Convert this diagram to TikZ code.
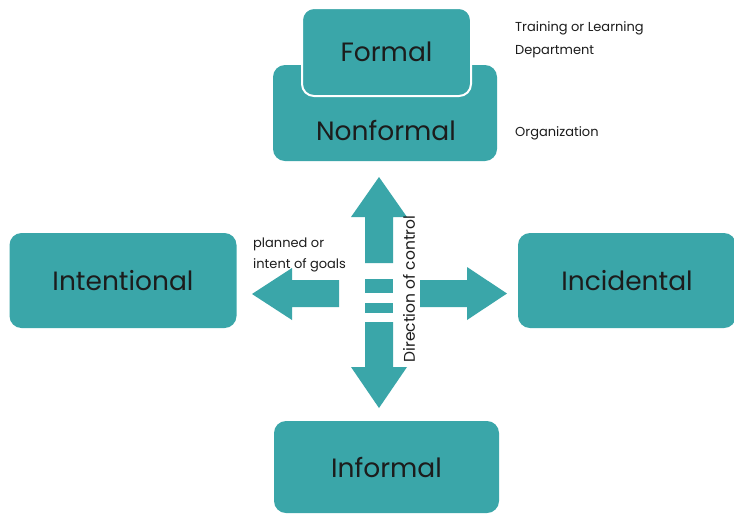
\documentclass[tikz,border=0pt]{standalone}
\usepackage{fontspec}
\setmainfont{Poppins}
\usetikzlibrary{positioning}
\definecolor{tealbox}{HTML}{3AA6A9}
\definecolor{ink}{HTML}{1C1C1C}
\tikzset{
 box/.style={fill=tealbox, rounded corners=12pt, inner sep=0pt},
 boxtext/.style={text=ink, font=\fontsize{26.5}{30}\selectfont},
 note/.style={anchor=west, inner sep=0pt, text=ink, font=\fontsize{13}{15}\selectfont},
 blockarrow/.style={fill=tealbox, draw=none},
}
\begin{document}
\begin{tikzpicture}[x=1pt,y=-1pt]
 \useasboundingbox[fill=white] (0,0) rectangle (734,515);

% Top pair: Nonformal behind, Formal in front
 \node[box, minimum width=224pt, minimum height=96pt] (nonformal) at (385,113) {};
 \node[boxtext] (nonformaltext) at (386,130) {Nonformal};
 \node[box, draw=white, line width=2pt, minimum width=169pt, minimum height=88pt, boxtext] (formal) at (386.5,52) {Formal};

 \node[note] (training) at (515,28) {Training or Learning};
 \node[note] (department) at (515,52) {Department};
 \node[note] (organization) at (515,133) {Organization};

% Side and bottom boxes
 \node[box, minimum width=227pt, minimum height=95pt, boxtext] (intentional) at (123,280.5) {Intentional};
 \node[box, minimum width=218pt, minimum height=95pt, boxtext] (incidental) at (627,280.5) {Incidental};
 \node[box, minimum width=225pt, minimum height=92pt, boxtext] (informal) at (386.5,467) {Informal};

 \node[note] (planned) at (253,244) {planned or};
 \node[note] (goals) at (253,265) {intent of goals};

% Block arrows in the middle
 \fill[blockarrow] (365,263) -- (365,217) -- (351,217) -- (379,177) -- (407,217) -- (393,217) -- (393,263) -- cycle; % up
 \fill[blockarrow] (365,322) -- (365,367) -- (351,367) -- (379,408) -- (407,367) -- (393,367) -- (393,322) -- cycle; % down
 \fill[blockarrow] (339,280) -- (292,280) -- (292,268) -- (252,294) -- (292,320) -- (292,307) -- (339,307) -- cycle; % left
 \fill[blockarrow] (420,280) -- (467,280) -- (467,267) -- (507,293.5) -- (467,320) -- (467,307) -- (420,307) -- cycle; % right
 \fill[blockarrow] (365,279) rectangle (393,293);
 \fill[blockarrow] (365,303) rectangle (393,313);

 \node[rotate=90, inner sep=0pt, text=ink, font=\fontsize{15.5}{18}\selectfont] (control) at (409,289) {Direction of control};

\end{tikzpicture}
\end{document}
